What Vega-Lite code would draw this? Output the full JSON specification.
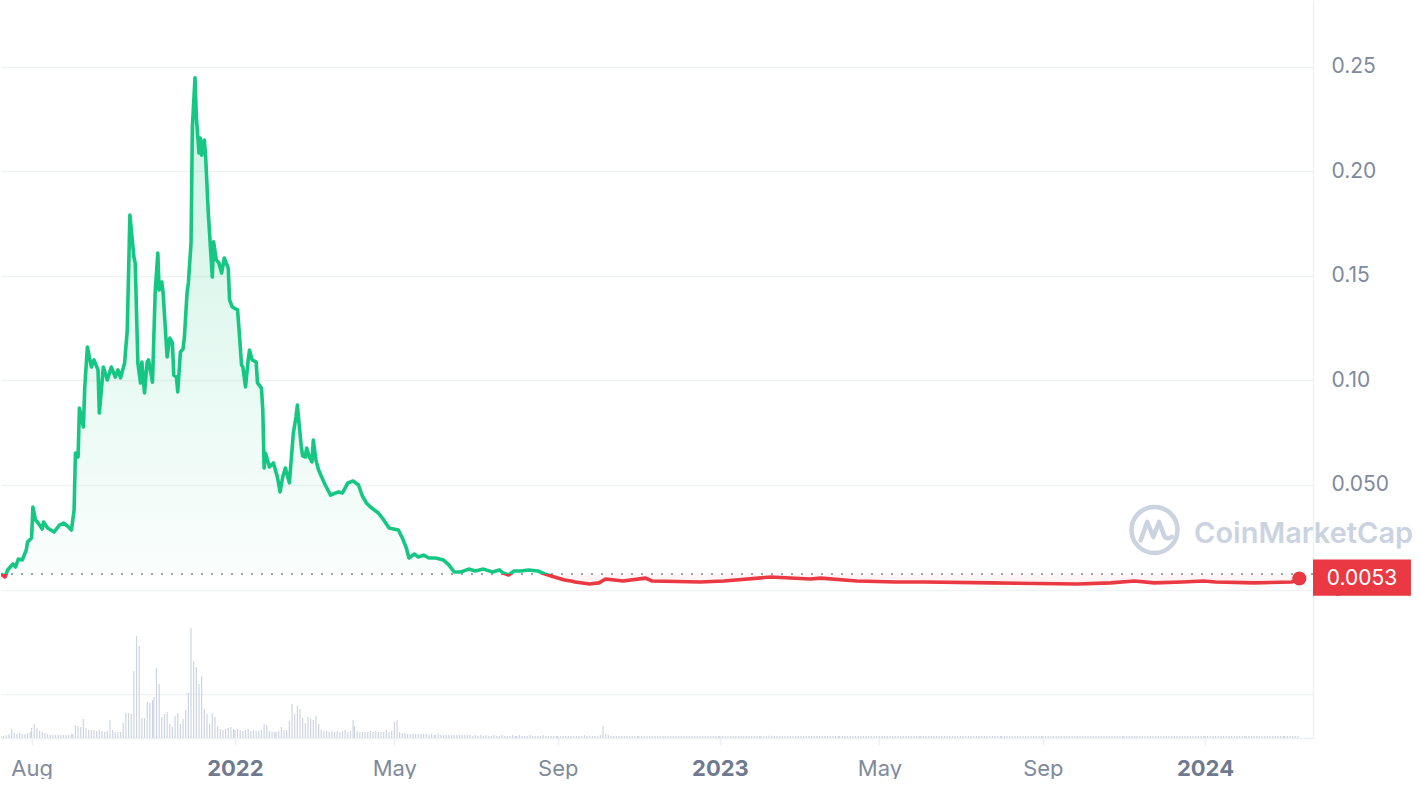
{
  "$schema": "https://vega.github.io/schema/vega-lite/v6.json",
  "width": 1312,
  "height": 738,
  "padding": 0,
  "autosize": {"type": "pad"},
  "background": "white",
  "view": {"stroke": null},
  "config": {"font": "Inter"},
  "datasets": {
    "price": [
      {"d":"2021-07-09","p":0.00746},{"d":"2021-07-12","p":0.00602},{"d":"2021-07-14","p":0.00937},{"d":"2021-07-18","p":0.01224},{"d":"2021-07-20","p":0.0108},{"d":"2021-07-22","p":0.01463},{"d":"2021-07-25","p":0.01415},{"d":"2021-07-28","p":0.01893},{"d":"2021-07-29","p":0.02275},
      {"d":"2021-08-01","p":0.02467},{"d":"2021-08-02","p":0.03948},{"d":"2021-08-04","p":0.03327},{"d":"2021-08-06","p":0.03184},{"d":"2021-08-09","p":0.02897},{"d":"2021-08-10","p":0.03231},{"d":"2021-08-13","p":0.02945},{"d":"2021-08-18","p":0.02753},{"d":"2021-08-22","p":0.03088},{"d":"2021-08-25","p":0.03184},{"d":"2021-08-28","p":0.0304},{"d":"2021-08-31","p":0.02849},
      {"d":"2021-09-02","p":0.03805},{"d":"2021-09-03","p":0.0653},{"d":"2021-09-05","p":0.06338},{"d":"2021-09-06","p":0.0868},{"d":"2021-09-09","p":0.07772},{"d":"2021-09-10","p":0.09637},{"d":"2021-09-12","p":0.116},{"d":"2021-09-15","p":0.1064},{"d":"2021-09-17","p":0.1098},{"d":"2021-09-20","p":0.105},{"d":"2021-09-21","p":0.08442},{"d":"2021-09-24","p":0.1064},{"d":"2021-09-27","p":0.1002},{"d":"2021-09-30","p":0.1064},
      {"d":"2021-10-03","p":0.1016},{"d":"2021-10-05","p":0.105},{"d":"2021-10-07","p":0.1012},{"d":"2021-10-10","p":0.1083},{"d":"2021-10-12","p":0.1241},{"d":"2021-10-14","p":0.1791},{"d":"2021-10-17","p":0.159},{"d":"2021-10-18","p":0.1561},{"d":"2021-10-20","p":0.1083},{"d":"2021-10-22","p":0.0988},{"d":"2021-10-23","p":0.1088},{"d":"2021-10-25","p":0.094},{"d":"2021-10-27","p":0.1088},{"d":"2021-10-28","p":0.1098},{"d":"2021-10-31","p":0.0992},
      {"d":"2021-11-02","p":0.1418},{"d":"2021-11-04","p":0.1609},{"d":"2021-11-05","p":0.1432},{"d":"2021-11-07","p":0.147},{"d":"2021-11-08","p":0.1418},{"d":"2021-11-11","p":0.1112},{"d":"2021-11-13","p":0.1202},{"d":"2021-11-15","p":0.1179},{"d":"2021-11-16","p":0.1026},{"d":"2021-11-18","p":0.1016},{"d":"2021-11-19","p":0.0945},{"d":"2021-11-21","p":0.1136},{"d":"2021-11-23","p":0.115},{"d":"2021-11-24","p":0.1207},{"d":"2021-11-26","p":0.1418},{"d":"2021-11-27","p":0.1466},{"d":"2021-11-29","p":0.1657},{"d":"2021-11-30","p":0.2211},
      {"d":"2021-12-02","p":0.2446},{"d":"2021-12-03","p":0.2259},{"d":"2021-12-05","p":0.2087},{"d":"2021-12-06","p":0.2158},{"d":"2021-12-07","p":0.2077},{"d":"2021-12-09","p":0.2149},{"d":"2021-12-10","p":0.2068},{"d":"2021-12-12","p":0.18},{"d":"2021-12-15","p":0.1494},{"d":"2021-12-16","p":0.1662},{"d":"2021-12-18","p":0.1576},{"d":"2021-12-20","p":0.1561},{"d":"2021-12-22","p":0.1513},{"d":"2021-12-24","p":0.1585},{"d":"2021-12-27","p":0.1537},{"d":"2021-12-28","p":0.1385},{"d":"2021-12-30","p":0.1351},
      {"d":"2022-01-03","p":0.1337},{"d":"2022-01-04","p":0.1255},{"d":"2022-01-06","p":0.1074},{"d":"2022-01-07","p":0.1064},{"d":"2022-01-09","p":0.0969},{"d":"2022-01-11","p":0.1098},{"d":"2022-01-12","p":0.1145},{"d":"2022-01-14","p":0.1098},{"d":"2022-01-17","p":0.1088},{"d":"2022-01-18","p":0.0988},{"d":"2022-01-21","p":0.0963},{"d":"2022-01-22","p":0.0859},{"d":"2022-01-23","p":0.0581},{"d":"2022-01-24","p":0.0653},{"d":"2022-01-27","p":0.0586},{"d":"2022-01-30","p":0.0605},
      {"d":"2022-02-02","p":0.0538},{"d":"2022-02-04","p":0.0467},{"d":"2022-02-06","p":0.0538},{"d":"2022-02-08","p":0.0581},{"d":"2022-02-11","p":0.051},{"d":"2022-02-14","p":0.0749},{"d":"2022-02-16","p":0.0825},{"d":"2022-02-17","p":0.0882},{"d":"2022-02-20","p":0.0682},{"d":"2022-02-21","p":0.0639},{"d":"2022-02-23","p":0.0634},{"d":"2022-02-24","p":0.0677},{"d":"2022-02-26","p":0.0634},{"d":"2022-02-28","p":0.061},
      {"d":"2022-03-01","p":0.0715},{"d":"2022-03-03","p":0.0619},{"d":"2022-03-05","p":0.0572},{"d":"2022-03-08","p":0.0529},{"d":"2022-03-10","p":0.05},{"d":"2022-03-14","p":0.0452},{"d":"2022-03-20","p":0.0467},{"d":"2022-03-23","p":0.0462},{"d":"2022-03-27","p":0.051},{"d":"2022-03-31","p":0.0519},
      {"d":"2022-04-04","p":0.05},{"d":"2022-04-07","p":0.0447},{"d":"2022-04-10","p":0.0414},{"d":"2022-04-13","p":0.0395},{"d":"2022-04-19","p":0.0366},{"d":"2022-04-23","p":0.0333},{"d":"2022-04-27","p":0.0294},
      {"d":"2022-05-04","p":0.0285},{"d":"2022-05-07","p":0.0247},{"d":"2022-05-10","p":0.0199},{"d":"2022-05-12","p":0.0151},{"d":"2022-05-16","p":0.017},{"d":"2022-05-19","p":0.0156},{"d":"2022-05-23","p":0.0165},{"d":"2022-05-27","p":0.0151},
      {"d":"2022-06-01","p":0.0151},{"d":"2022-06-07","p":0.0141},{"d":"2022-06-11","p":0.0118},{"d":"2022-06-15","p":0.0084},{"d":"2022-06-20","p":0.0084},{"d":"2022-06-26","p":0.0098},
      {"d":"2022-07-01","p":0.0089},{"d":"2022-07-07","p":0.0098},{"d":"2022-07-14","p":0.0084},{"d":"2022-07-19","p":0.0094},{"d":"2022-07-22","p":0.0079},{"d":"2022-07-26","p":0.007},{"d":"2022-07-30","p":0.0089},
      {"d":"2022-08-04","p":0.0089},{"d":"2022-08-10","p":0.0094},{"d":"2022-08-17","p":0.0089},{"d":"2022-08-22","p":0.0075},{"d":"2022-08-27","p":0.0065},
      {"d":"2022-09-01","p":0.0055},{"d":"2022-09-06","p":0.0046},{"d":"2022-09-11","p":0.0041},{"d":"2022-09-14","p":0.0036},{"d":"2022-09-25","p":0.0027},
      {"d":"2022-10-02","p":0.0032},{"d":"2022-10-07","p":0.0051},{"d":"2022-10-20","p":0.0041},{"d":"2022-11-06","p":0.0055},{"d":"2022-11-11","p":0.0041},{"d":"2022-12-17","p":0.0036},
      {"d":"2023-01-04","p":0.0041},{"d":"2023-02-08","p":0.006},{"d":"2023-03-10","p":0.0051},{"d":"2023-03-18","p":0.0055},{"d":"2023-04-14","p":0.0041},{"d":"2023-05-13","p":0.0036},{"d":"2023-06-04","p":0.0036},{"d":"2023-07-24","p":0.0032},{"d":"2023-09-27","p":0.0027},{"d":"2023-10-22","p":0.0032},{"d":"2023-11-09","p":0.0041},{"d":"2023-11-24","p":0.0032},{"d":"2023-12-15","p":0.0036},{"d":"2023-12-31","p":0.0041},
      {"d":"2024-01-09","p":0.0036},{"d":"2024-02-07","p":0.0032},{"d":"2024-03-06","p":0.0036},{"d":"2024-03-12","p":0.0053}
    ],
    "vol": [
      {"d":"2021-07-09","v":4},{"d":"2021-07-11","v":4},{"d":"2021-07-13","v":6},{"d":"2021-07-15","v":8},{"d":"2021-07-17","v":18},{"d":"2021-07-19","v":10},{"d":"2021-07-21","v":8},{"d":"2021-07-23","v":10},{"d":"2021-07-25","v":8},{"d":"2021-07-27","v":8},{"d":"2021-07-29","v":10},{"d":"2021-07-31","v":12},
      {"d":"2021-08-01","v":20},{"d":"2021-08-03","v":28},{"d":"2021-08-05","v":20},{"d":"2021-08-07","v":14},{"d":"2021-08-09","v":12},{"d":"2021-08-11","v":10},{"d":"2021-08-13","v":8},{"d":"2021-08-15","v":6},{"d":"2021-08-17","v":6},{"d":"2021-08-19","v":6},{"d":"2021-08-21","v":6},{"d":"2021-08-23","v":6},{"d":"2021-08-25","v":6},{"d":"2021-08-27","v":6},{"d":"2021-08-29","v":6},{"d":"2021-08-31","v":8},
      {"d":"2021-09-01","v":8},{"d":"2021-09-03","v":26},{"d":"2021-09-05","v":24},{"d":"2021-09-07","v":22},{"d":"2021-09-09","v":38},{"d":"2021-09-11","v":20},{"d":"2021-09-13","v":16},{"d":"2021-09-15","v":16},{"d":"2021-09-17","v":16},{"d":"2021-09-19","v":14},{"d":"2021-09-21","v":16},{"d":"2021-09-23","v":14},{"d":"2021-09-25","v":12},{"d":"2021-09-27","v":14},{"d":"2021-09-29","v":36},
      {"d":"2021-10-01","v":16},{"d":"2021-10-03","v":12},{"d":"2021-10-05","v":12},{"d":"2021-10-07","v":12},{"d":"2021-10-09","v":30},{"d":"2021-10-11","v":50},{"d":"2021-10-13","v":50},{"d":"2021-10-15","v":48},{"d":"2021-10-17","v":134},{"d":"2021-10-19","v":204},{"d":"2021-10-21","v":184},{"d":"2021-10-23","v":40},{"d":"2021-10-25","v":40},{"d":"2021-10-27","v":72},{"d":"2021-10-29","v":70},{"d":"2021-10-31","v":76},
      {"d":"2021-11-01","v":82},{"d":"2021-11-03","v":140},{"d":"2021-11-05","v":108},{"d":"2021-11-07","v":42},{"d":"2021-11-09","v":48},{"d":"2021-11-11","v":52},{"d":"2021-11-13","v":28},{"d":"2021-11-15","v":22},{"d":"2021-11-17","v":44},{"d":"2021-11-19","v":50},{"d":"2021-11-21","v":28},{"d":"2021-11-23","v":38},{"d":"2021-11-25","v":56},{"d":"2021-11-27","v":90},{"d":"2021-11-29","v":220},
      {"d":"2021-12-01","v":154},{"d":"2021-12-03","v":142},{"d":"2021-12-05","v":108},{"d":"2021-12-07","v":124},{"d":"2021-12-09","v":58},{"d":"2021-12-11","v":48},{"d":"2021-12-13","v":28},{"d":"2021-12-15","v":50},{"d":"2021-12-17","v":42},{"d":"2021-12-19","v":24},{"d":"2021-12-21","v":18},{"d":"2021-12-23","v":16},{"d":"2021-12-25","v":18},{"d":"2021-12-27","v":20},{"d":"2021-12-29","v":22},{"d":"2021-12-31","v":18},
      {"d":"2022-01-01","v":16},{"d":"2022-01-03","v":18},{"d":"2022-01-05","v":16},{"d":"2022-01-07","v":14},{"d":"2022-01-09","v":16},{"d":"2022-01-11","v":18},{"d":"2022-01-13","v":14},{"d":"2022-01-15","v":16},{"d":"2022-01-17","v":14},{"d":"2022-01-19","v":14},{"d":"2022-01-21","v":16},{"d":"2022-01-23","v":28},{"d":"2022-01-25","v":26},{"d":"2022-01-27","v":14},{"d":"2022-01-29","v":12},{"d":"2022-01-31","v":12},
      {"d":"2022-02-01","v":12},{"d":"2022-02-03","v":14},{"d":"2022-02-05","v":22},{"d":"2022-02-07","v":16},{"d":"2022-02-09","v":16},{"d":"2022-02-11","v":34},{"d":"2022-02-13","v":68},{"d":"2022-02-15","v":48},{"d":"2022-02-17","v":64},{"d":"2022-02-19","v":58},{"d":"2022-02-21","v":40},{"d":"2022-02-23","v":30},{"d":"2022-02-25","v":42},{"d":"2022-02-27","v":38},
      {"d":"2022-03-01","v":36},{"d":"2022-03-03","v":44},{"d":"2022-03-05","v":28},{"d":"2022-03-07","v":16},{"d":"2022-03-09","v":14},{"d":"2022-03-11","v":14},{"d":"2022-03-13","v":12},{"d":"2022-03-15","v":14},{"d":"2022-03-17","v":12},{"d":"2022-03-19","v":14},{"d":"2022-03-21","v":12},{"d":"2022-03-23","v":14},{"d":"2022-03-25","v":16},{"d":"2022-03-27","v":12},{"d":"2022-03-29","v":14},{"d":"2022-03-31","v":36},
      {"d":"2022-04-01","v":24},{"d":"2022-04-03","v":14},{"d":"2022-04-05","v":12},{"d":"2022-04-07","v":12},{"d":"2022-04-09","v":12},{"d":"2022-04-11","v":12},{"d":"2022-04-13","v":14},{"d":"2022-04-15","v":12},{"d":"2022-04-17","v":14},{"d":"2022-04-19","v":12},{"d":"2022-04-21","v":12},{"d":"2022-04-23","v":12},{"d":"2022-04-25","v":16},{"d":"2022-04-27","v":12},{"d":"2022-04-29","v":14},
      {"d":"2022-05-01","v":32},{"d":"2022-05-03","v":36},{"d":"2022-05-05","v":12},{"d":"2022-05-07","v":10},{"d":"2022-05-09","v":10},{"d":"2022-05-11","v":8},{"d":"2022-05-13","v":8},{"d":"2022-05-15","v":8},{"d":"2022-05-17","v":8},{"d":"2022-05-19","v":8},{"d":"2022-05-21","v":8},{"d":"2022-05-23","v":8},{"d":"2022-05-25","v":8},{"d":"2022-05-27","v":6},{"d":"2022-05-29","v":8},{"d":"2022-05-31","v":6},
      {"d":"2022-06-01","v":6},{"d":"2022-06-03","v":8},{"d":"2022-06-05","v":6},{"d":"2022-06-07","v":6},{"d":"2022-06-09","v":6},{"d":"2022-06-11","v":6},{"d":"2022-06-13","v":6},{"d":"2022-06-15","v":6},{"d":"2022-06-17","v":6},{"d":"2022-06-19","v":6},{"d":"2022-06-21","v":6},{"d":"2022-06-23","v":6},{"d":"2022-06-25","v":6},{"d":"2022-06-27","v":6},{"d":"2022-06-29","v":4},
      {"d":"2022-07-01","v":6},{"d":"2022-07-03","v":4},{"d":"2022-07-05","v":6},{"d":"2022-07-07","v":4},{"d":"2022-07-09","v":6},{"d":"2022-07-11","v":4},{"d":"2022-07-13","v":4},{"d":"2022-07-15","v":6},{"d":"2022-07-17","v":4},{"d":"2022-07-19","v":4},{"d":"2022-07-21","v":6},{"d":"2022-07-23","v":4},{"d":"2022-07-25","v":4},{"d":"2022-07-27","v":4},{"d":"2022-07-29","v":6},{"d":"2022-07-31","v":4},
      {"d":"2022-08-01","v":4},{"d":"2022-08-03","v":6},{"d":"2022-08-05","v":4},{"d":"2022-08-07","v":4},{"d":"2022-08-09","v":4},{"d":"2022-08-11","v":6},{"d":"2022-08-13","v":4},{"d":"2022-08-15","v":4},{"d":"2022-08-17","v":4},{"d":"2022-08-19","v":4},{"d":"2022-08-21","v":6},{"d":"2022-08-23","v":4},{"d":"2022-08-25","v":4},{"d":"2022-08-27","v":4},{"d":"2022-08-29","v":4},{"d":"2022-08-31","v":4},
      {"d":"2022-09-01","v":4},{"d":"2022-09-03","v":4},{"d":"2022-09-05","v":4},{"d":"2022-09-07","v":4},{"d":"2022-09-09","v":4},{"d":"2022-09-11","v":4},{"d":"2022-09-13","v":4},{"d":"2022-09-15","v":4},{"d":"2022-09-17","v":4},{"d":"2022-09-19","v":4},{"d":"2022-09-21","v":6},{"d":"2022-09-23","v":4},{"d":"2022-09-25","v":4},{"d":"2022-09-27","v":4},{"d":"2022-09-29","v":4},
      {"d":"2022-10-01","v":4},{"d":"2022-10-03","v":6},{"d":"2022-10-05","v":24},{"d":"2022-10-07","v":8},{"d":"2022-10-09","v":6},{"d":"2022-10-11","v":4},{"d":"2022-10-13","v":4},{"d":"2022-10-15","v":4},{"d":"2022-10-17","v":4},{"d":"2022-10-19","v":4},{"d":"2022-10-21","v":4},{"d":"2022-10-23","v":4},{"d":"2022-10-25","v":4},{"d":"2022-10-27","v":4},{"d":"2022-10-29","v":4},{"d":"2022-10-31","v":4},
      {"d":"2022-11-01","v":4},{"d":"2022-11-03","v":4},{"d":"2022-11-05","v":4},{"d":"2022-11-07","v":4},{"d":"2022-11-09","v":4},{"d":"2022-11-11","v":4},{"d":"2022-11-13","v":4},{"d":"2022-11-15","v":4},{"d":"2022-11-17","v":4},{"d":"2022-11-19","v":4},{"d":"2022-11-21","v":4},{"d":"2022-11-23","v":4},{"d":"2022-11-25","v":4},{"d":"2022-11-27","v":4},{"d":"2022-11-29","v":4},
      {"d":"2022-12-01","v":4},{"d":"2022-12-03","v":4},{"d":"2022-12-05","v":4},{"d":"2022-12-07","v":4},{"d":"2022-12-09","v":4},{"d":"2022-12-11","v":4},{"d":"2022-12-13","v":4},{"d":"2022-12-15","v":4},{"d":"2022-12-17","v":4},{"d":"2022-12-19","v":4},{"d":"2022-12-21","v":4},{"d":"2022-12-23","v":4},{"d":"2022-12-25","v":4},{"d":"2022-12-27","v":4},{"d":"2022-12-29","v":4},{"d":"2022-12-31","v":4},
      {"d":"2023-01-01","v":4},{"d":"2023-01-03","v":4},{"d":"2023-01-05","v":4},{"d":"2023-01-07","v":4},{"d":"2023-01-09","v":4},{"d":"2023-01-11","v":4},{"d":"2023-01-13","v":4},{"d":"2023-01-15","v":4},{"d":"2023-01-17","v":4},{"d":"2023-01-19","v":4},{"d":"2023-01-21","v":4},{"d":"2023-01-23","v":4},{"d":"2023-01-25","v":4},{"d":"2023-01-27","v":4},{"d":"2023-01-29","v":4},{"d":"2023-01-31","v":4},
      {"d":"2023-02-01","v":4},{"d":"2023-02-03","v":4},{"d":"2023-02-05","v":4},{"d":"2023-02-07","v":5},{"d":"2023-02-09","v":4},{"d":"2023-02-11","v":4},{"d":"2023-02-13","v":4},{"d":"2023-02-15","v":4},{"d":"2023-02-17","v":4},{"d":"2023-02-19","v":4},{"d":"2023-02-21","v":4},{"d":"2023-02-23","v":4},{"d":"2023-02-25","v":4},{"d":"2023-02-27","v":4},
      {"d":"2023-03-01","v":4},{"d":"2023-03-03","v":4},{"d":"2023-03-05","v":4},{"d":"2023-03-07","v":4},{"d":"2023-03-09","v":4},{"d":"2023-03-11","v":4},{"d":"2023-03-13","v":4},{"d":"2023-03-15","v":4},{"d":"2023-03-17","v":4},{"d":"2023-03-19","v":4},{"d":"2023-03-21","v":4},{"d":"2023-03-23","v":4},{"d":"2023-03-25","v":4},{"d":"2023-03-27","v":4},{"d":"2023-03-29","v":4},{"d":"2023-03-31","v":4},
      {"d":"2023-04-01","v":4},{"d":"2023-04-03","v":4},{"d":"2023-04-05","v":4},{"d":"2023-04-07","v":4},{"d":"2023-04-09","v":4},{"d":"2023-04-11","v":4},{"d":"2023-04-13","v":4},{"d":"2023-04-15","v":4},{"d":"2023-04-17","v":4},{"d":"2023-04-19","v":4},{"d":"2023-04-21","v":4},{"d":"2023-04-23","v":4},{"d":"2023-04-25","v":4},{"d":"2023-04-27","v":4},{"d":"2023-04-29","v":4},
      {"d":"2023-05-01","v":4},{"d":"2023-05-03","v":4},{"d":"2023-05-05","v":4},{"d":"2023-05-07","v":4},{"d":"2023-05-09","v":4},{"d":"2023-05-11","v":4},{"d":"2023-05-13","v":4},{"d":"2023-05-15","v":4},{"d":"2023-05-17","v":4},{"d":"2023-05-19","v":4},{"d":"2023-05-21","v":4},{"d":"2023-05-23","v":4},{"d":"2023-05-25","v":4},{"d":"2023-05-27","v":4},{"d":"2023-05-29","v":4},{"d":"2023-05-31","v":4},
      {"d":"2023-06-01","v":4},{"d":"2023-06-03","v":4},{"d":"2023-06-05","v":4},{"d":"2023-06-07","v":4},{"d":"2023-06-09","v":4},{"d":"2023-06-11","v":4},{"d":"2023-06-13","v":4},{"d":"2023-06-15","v":4},{"d":"2023-06-17","v":4},{"d":"2023-06-19","v":4},{"d":"2023-06-21","v":4},{"d":"2023-06-23","v":4},{"d":"2023-06-25","v":4},{"d":"2023-06-27","v":4},{"d":"2023-06-29","v":4},
      {"d":"2023-07-01","v":4},{"d":"2023-07-03","v":4},{"d":"2023-07-05","v":4},{"d":"2023-07-07","v":4},{"d":"2023-07-09","v":4},{"d":"2023-07-11","v":4},{"d":"2023-07-13","v":4},{"d":"2023-07-15","v":4},{"d":"2023-07-17","v":4},{"d":"2023-07-19","v":4},{"d":"2023-07-21","v":4},{"d":"2023-07-23","v":4},{"d":"2023-07-25","v":4},{"d":"2023-07-27","v":4},{"d":"2023-07-29","v":4},{"d":"2023-07-31","v":4},
      {"d":"2023-08-01","v":4},{"d":"2023-08-03","v":4},{"d":"2023-08-05","v":4},{"d":"2023-08-07","v":4},{"d":"2023-08-09","v":4},{"d":"2023-08-11","v":4},{"d":"2023-08-13","v":4},{"d":"2023-08-15","v":4},{"d":"2023-08-17","v":4},{"d":"2023-08-19","v":4},{"d":"2023-08-21","v":4},{"d":"2023-08-23","v":4},{"d":"2023-08-25","v":4},{"d":"2023-08-27","v":4},{"d":"2023-08-29","v":4},{"d":"2023-08-31","v":4},
      {"d":"2023-09-01","v":4},{"d":"2023-09-03","v":4},{"d":"2023-09-05","v":4},{"d":"2023-09-07","v":4},{"d":"2023-09-09","v":4},{"d":"2023-09-11","v":4},{"d":"2023-09-13","v":4},{"d":"2023-09-15","v":4},{"d":"2023-09-17","v":4},{"d":"2023-09-19","v":4},{"d":"2023-09-21","v":4},{"d":"2023-09-23","v":4},{"d":"2023-09-25","v":4},{"d":"2023-09-27","v":4},{"d":"2023-09-29","v":4},
      {"d":"2023-10-01","v":4},{"d":"2023-10-03","v":4},{"d":"2023-10-05","v":4},{"d":"2023-10-07","v":4},{"d":"2023-10-09","v":4},{"d":"2023-10-11","v":4},{"d":"2023-10-13","v":4},{"d":"2023-10-15","v":4},{"d":"2023-10-17","v":4},{"d":"2023-10-19","v":4},{"d":"2023-10-21","v":4},{"d":"2023-10-23","v":4},{"d":"2023-10-25","v":4},{"d":"2023-10-27","v":4},{"d":"2023-10-29","v":4},{"d":"2023-10-31","v":4},
      {"d":"2023-11-01","v":4},{"d":"2023-11-03","v":4},{"d":"2023-11-05","v":4},{"d":"2023-11-07","v":4},{"d":"2023-11-09","v":4},{"d":"2023-11-11","v":4},{"d":"2023-11-13","v":4},{"d":"2023-11-15","v":4},{"d":"2023-11-17","v":4},{"d":"2023-11-19","v":4},{"d":"2023-11-21","v":4},{"d":"2023-11-23","v":4},{"d":"2023-11-25","v":4},{"d":"2023-11-27","v":4},{"d":"2023-11-29","v":4},
      {"d":"2023-12-01","v":4},{"d":"2023-12-03","v":4},{"d":"2023-12-05","v":4},{"d":"2023-12-07","v":4},{"d":"2023-12-09","v":4},{"d":"2023-12-11","v":4},{"d":"2023-12-13","v":4},{"d":"2023-12-15","v":4},{"d":"2023-12-17","v":4},{"d":"2023-12-19","v":4},{"d":"2023-12-21","v":4},{"d":"2023-12-23","v":4},{"d":"2023-12-25","v":4},{"d":"2023-12-27","v":4},{"d":"2023-12-29","v":4},{"d":"2023-12-31","v":4},
      {"d":"2024-01-01","v":4},{"d":"2024-01-03","v":4},{"d":"2024-01-05","v":4},{"d":"2024-01-07","v":4},{"d":"2024-01-09","v":4},{"d":"2024-01-11","v":4},{"d":"2024-01-13","v":4},{"d":"2024-01-15","v":4},{"d":"2024-01-17","v":4},{"d":"2024-01-19","v":4},{"d":"2024-01-21","v":4},{"d":"2024-01-23","v":4},{"d":"2024-01-25","v":4},{"d":"2024-01-27","v":4},{"d":"2024-01-29","v":4},{"d":"2024-01-31","v":4},
      {"d":"2024-02-01","v":4},{"d":"2024-02-03","v":4},{"d":"2024-02-05","v":4},{"d":"2024-02-07","v":4},{"d":"2024-02-09","v":4},{"d":"2024-02-11","v":4},{"d":"2024-02-13","v":4},{"d":"2024-02-15","v":4},{"d":"2024-02-17","v":4},{"d":"2024-02-19","v":4},{"d":"2024-02-21","v":4},{"d":"2024-02-23","v":4},{"d":"2024-02-25","v":4},{"d":"2024-02-27","v":4},{"d":"2024-02-29","v":4},
      {"d":"2024-03-01","v":4},{"d":"2024-03-03","v":4},{"d":"2024-03-05","v":4},{"d":"2024-03-07","v":4},{"d":"2024-03-09","v":4},{"d":"2024-03-11","v":4}
    ]
  },
  "layer": [
    {
      "data": {"name": "vol"},
      "mark": {"type": "bar", "width": 1.2, "color": "#cdd4e2", "clip": true},
      "encoding": {
        "x": {
          "field": "d",
          "type": "temporal",
          "scale": {
            "type": "utc",
            "padding": 0,
            "domain": [
              {"year": 2021, "month": 7, "date": 9, "utc": true},
              {"year": 2024, "month": 3, "date": 22, "hours": 7, "utc": true}
            ]
          },
          "axis": {
            "title": null,
            "grid": false,
            "values": [
              {"year": 2021, "month": 8, "date": 1, "utc": true},
              {"year": 2022, "month": 1, "date": 1, "utc": true},
              {"year": 2022, "month": 5, "date": 1, "utc": true},
              {"year": 2022, "month": 9, "date": 1, "utc": true},
              {"year": 2023, "month": 1, "date": 1, "utc": true},
              {"year": 2023, "month": 5, "date": 1, "utc": true},
              {"year": 2023, "month": 9, "date": 1, "utc": true},
              {"year": 2024, "month": 1, "date": 1, "utc": true}
            ],
            "labelExpr": "utcFormat(datum.value, utcmonth(datum.value) == 0 ? '%Y' : '%b')",
            "labelFontWeight": {"condition": {"test": "utcmonth(datum.value) == 0", "value": 700}, "value": 400},
            "labelColor": {"condition": {"test": "utcmonth(datum.value) == 0", "value": "#6f7a90"}, "value": "#808a9d"},
            "labelFont": "Inter",
            "labelFontSize": 22,
            "labelPadding": 13,
            "labelOverlap": false,
            "labelFlush": false,
            "domainColor": "#eceff3",
            "domainWidth": 1.5,
            "tickColor": "#eceff3",
            "tickWidth": 1.5,
            "tickSize": 7
          }
        },
        "y": {"field": "v", "type": "quantitative", "scale": {"domain": [0, 1476], "nice": false, "zero": true}, "axis": null}
      }
    },
    {
      "layer": [
        {
          "data": {"name": "price"},
          "mark": {
            "type": "area",
            "clip": true,
            "fill": {
              "gradient": "linear", "x1": 0, "y1": 0, "x2": 0, "y2": 1,
              "stops": [
                {"offset": 0, "color": "rgba(22,199,132,0.22)"},
                {"offset": 0.9803, "color": "rgba(22,199,132,0.02)"},
                {"offset": 0.9803, "color": "rgba(234,57,67,0.03)"},
                {"offset": 1, "color": "rgba(234,57,67,0.08)"}
              ]
            }
          },
          "encoding": {
            "x": {"field": "d", "type": "temporal", "scale": {"type": "utc", "padding": 0}},
            "y": {
              "field": "p",
              "type": "quantitative",
              "scale": {"domain": [-0.07094, 0.28184], "nice": false, "zero": false},
              "axis": {
                "orient": "right",
                "title": null,
                "values": [-0.05, 0, 0.05, 0.1, 0.15, 0.2, 0.25],
                "labelExpr": "datum.value < 0 ? '' : datum.value == 0 ? '0' : datum.value == 0.05 ? '0.050' : format(datum.value, '.2f')",
                "grid": true,
                "gridColor": "#eff1f4",
                "gridWidth": 1.5,
                "domain": true,
                "domainColor": "#eff1f4",
                "domainWidth": 1.5,
                "ticks": false,
                "labelPadding": 18,
                "labelFont": "Inter",
                "labelFontSize": 21,
                "labelColor": "#808a9d",
                "labelAlign": "left",
                "labelBaseline": "middle"
              }
            },
            "y2": {"datum": 0.00746}
          }
        },
        {
          "data": {"values": [{"k": 1}]},
          "mark": {"type": "rule", "color": "#9aa1af", "strokeWidth": 2, "strokeDash": [2, 8]},
          "encoding": {"y": {"datum": 0.00746}}
        },
        {
          "data": {"name": "price"},
          "mark": {
            "type": "line",
            "clip": true,
            "strokeWidth": 3.6,
            "strokeJoin": "round",
            "stroke": {
              "gradient": "linear", "x1": 0, "y1": 0, "x2": 0, "y2": 1,
              "stops": [
                {"offset": 0, "color": "#16c784"},
                {"offset": 0.9803, "color": "#16c784"},
                {"offset": 0.9803, "color": "#ea3943"},
                {"offset": 1, "color": "#ea3943"}
              ]
            }
          },
          "encoding": {
            "x": {"field": "d", "type": "temporal", "scale": {"type": "utc", "padding": 0}},
            "y": {"field": "p", "type": "quantitative"}
          }
        },
        {
          "data": {"name": "price"},
          "transform": [
            {"window": [{"op": "row_number", "as": "rn"}], "sort": [{"field": "d", "order": "descending"}]},
            {"filter": "datum.rn == 1"}
          ],
          "layer": [
            {
              "mark": {"type": "point", "filled": true, "size": 200, "color": "#ea3943", "opacity": 1},
              "encoding": {
                "x": {"field": "d", "type": "temporal", "scale": {"type": "utc", "padding": 0}},
                "y": {"field": "p", "type": "quantitative"}
              }
            },
            {
              "mark": {"type": "rect", "color": "#ea3943"},
              "encoding": {
                "x": {"datum": {"year": 2024, "month": 3, "date": 22, "hours": 7, "utc": true}, "type": "temporal"},
                "x2": {"datum": {"year": 2024, "month": 6, "date": 4, "utc": true}},
                "y": {"datum": 0.01435},
                "y2": {"datum": -0.0029}
              }
            },
            {
              "mark": {"type": "text", "color": "white", "font": "Inter", "fontSize": 21, "align": "center", "baseline": "middle"},
              "encoding": {
                "x": {"datum": {"year": 2024, "month": 4, "date": 28, "hours": 5, "utc": true}, "type": "temporal"},
                "y": {"field": "p", "type": "quantitative"},
                "text": {"field": "p", "type": "quantitative", "format": ".4f"}
              }
            }
          ]
        },
        {
          "data": {"values": [{"k": 2}]},
          "mark": {"type": "point", "shape": "circle", "filled": false, "size": 2116, "stroke": "#cbd3e1", "strokeWidth": 4.5, "opacity": 1},
          "encoding": {
            "x": {"datum": {"year": 2023, "month": 11, "date": 24, "utc": true}, "type": "temporal"},
            "y": {"datum": 0.0285}
          }
        },
        {
          "data": {"values": [{"k": 3}]},
          "mark": {"type": "point", "shape": "M-0.6,0.45 L-0.32,-0.35 L-0.05,0.3 L0.2,-0.35 L0.4,0.2 Q0.5,0.45 0.75,0.3", "filled": false, "size": 2116, "stroke": "#cbd3e1", "strokeWidth": 4.5, "strokeJoin": "round", "strokeCap": "round", "opacity": 1},
          "encoding": {
            "x": {"datum": {"year": 2023, "month": 11, "date": 24, "utc": true}, "type": "temporal"},
            "y": {"datum": 0.0285}
          }
        },
        {
          "data": {"values": [{"k": 4}]},
          "mark": {"type": "text", "text": "CoinMarketCap", "font": "Inter", "fontSize": 29, "fontWeight": 600, "color": "#cbd3e1", "align": "left", "baseline": "alphabetic"},
          "encoding": {
            "x": {"datum": {"year": 2023, "month": 12, "date": 23, "hours": 19, "utc": true}, "type": "temporal"},
            "y": {"datum": 0.02228}
          }
        }
      ]
    }
  ],
  "resolve": {"scale": {"y": "independent"}}
}
